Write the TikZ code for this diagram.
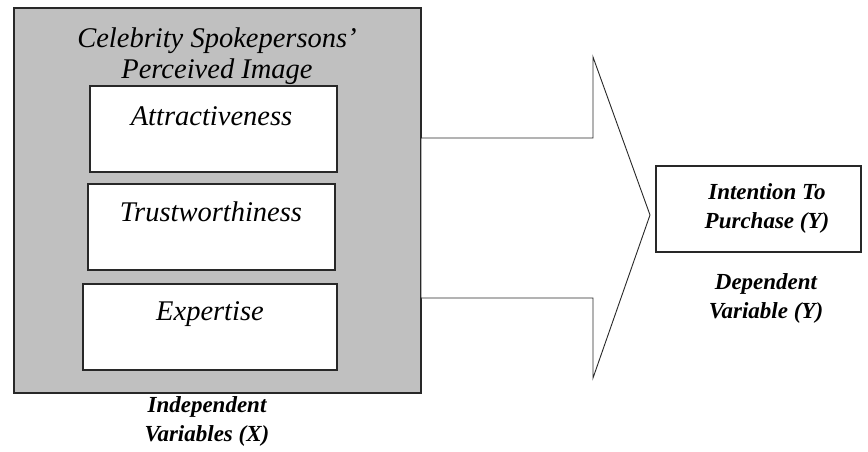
\documentclass[tikz,border=0pt]{standalone}
\usepackage{fontspec}
\setmainfont{Liberation Serif}
\definecolor{boxgray}{RGB}{192,192,192}
\definecolor{linegray}{RGB}{40,40,40}
\tikzset{
  bigtext/.style={font=\fontsize{28.5}{31}\selectfont\itshape,inner sep=0pt,align=center,anchor=base},
  smalltext/.style={font=\fontsize{23}{29}\selectfont\bfseries\itshape,inner sep=0pt,align=center,anchor=base},
  varbox/.style={draw=linegray,line width=1.3pt,fill=white,inner sep=0pt,minimum height=86pt}
}
\begin{document}
\begin{tikzpicture}[x=1pt,y=-1pt]
    \useasboundingbox (0,0) rectangle (868,452);
    \node[draw=linegray,line width=1.3pt,fill=boxgray,inner sep=0pt,
          minimum width=407pt,minimum height=385pt] (iv) at (217.5,200.5) {};
    \node[bigtext] (ivtitle) at (217,78) {Celebrity Spokepersons'\\Perceived Image};
    \node[varbox,minimum width=247pt] (attr) at (213.5,129) {};
    \node[varbox,minimum width=247pt] (trust) at (211.5,227) {};
    \node[varbox,minimum width=254pt] (expert) at (210,327) {};
    \node[bigtext] (attrtext) at (211.5,125) {Attractiveness};
    \node[bigtext] (trusttext) at (211,221) {Trustworthiness};
    \node[bigtext] (experttext) at (210,320) {Expertise};
    \node[smalltext] (ivlabel) at (207,441) {Independent\\Variables (X)};
    % block arrow
    \draw[draw=linegray,line width=0.9pt,fill=white]
        (421,138) -- (593,138) -- (593,57) -- (650,215)
        -- (593,378) -- (593,298) -- (421,298) -- cycle;
    \node[draw=linegray,line width=1.2pt,fill=white,inner sep=0pt,
          minimum width=205pt,minimum height=86pt] (dv) at (758.5,209) {};
    \node[smalltext] (dvtext) at (767,228) {Intention To\\Purchase (Y)};
    \node[smalltext] (dvlabel) at (766,318) {Dependent\\Variable (Y)};
\end{tikzpicture}
\end{document}
